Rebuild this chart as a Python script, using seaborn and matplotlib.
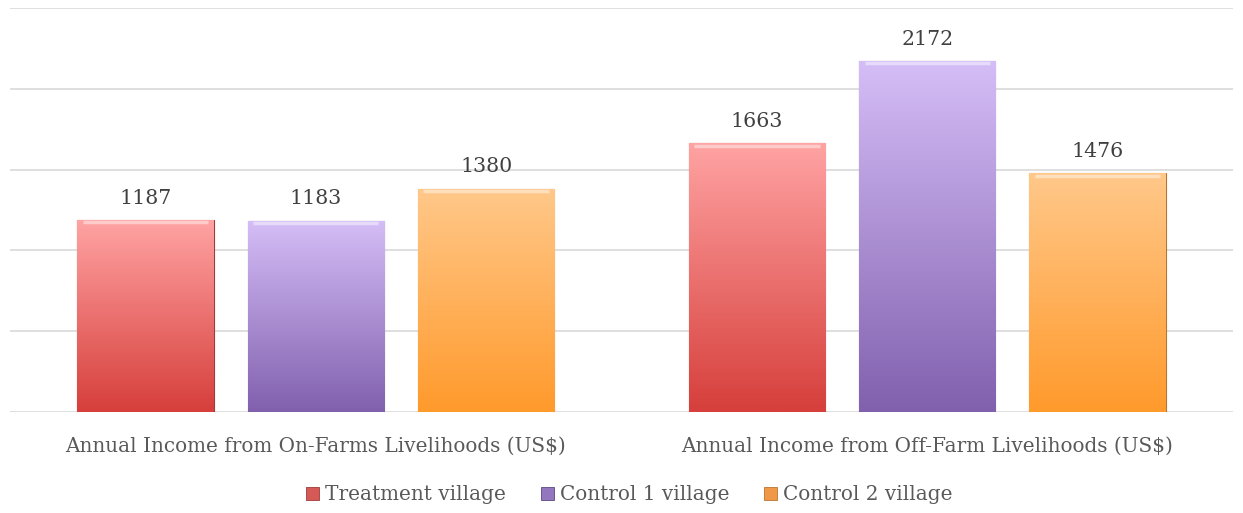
import numpy as np
import pandas as pd
import matplotlib
matplotlib.use("Agg")
import matplotlib.pyplot as plt
import seaborn as sns
from matplotlib.colors import LinearSegmentedColormap

categories = ["Annual Income from On-Farms Livelihoods (US$)",
              "Annual Income from Off-Farm Livelihoods (US$)"]
series = ["Treatment village", "Control 1 village", "Control 2 village"]
treatment = [1187, 1663]
control1 = [1183, 2172]
control2 = [1380, 1476]

top_colors = ["#FFA3A3", "#D5BEF7", "#FFC88A"]
bottom_colors = ["#D63F3B", "#8160AE", "#FF9A2C"]
mid_colors = ["#D55A57", "#9377BE", "#EE9848"]
edge_colors = ["#9E3A38", "#5E4783", "#B8742F"]

rows = []
for s, vals in zip(series, [treatment, control1, control2]):
    for c, v in zip(categories, vals):
        rows.append({"category": c, "series": s, "value": v})
df = pd.DataFrame(rows)

sns.set_theme(style="white")
plt.rcParams["font.family"] = ["DejaVu Serif"]

fig = plt.figure(figsize=(12.43, 5.13), dpi=100)
ax = fig.add_axes([10/1243, 1 - 412/513, 1223/1243, 404/513])

sns.barplot(data=df, x="category", y="value", hue="series", palette=mid_colors,
            width=0.836, gap=0.2, ax=ax, legend=True, saturation=1)

ax.set_ylim(0, 2500)
ax.set_yticks([0, 500, 1000, 1500, 2000, 2500])
ax.yaxis.grid(True, color="#D9D9D9", linewidth=1.2)
ax.set_axisbelow(True)
ax.set_yticklabels([])
ax.tick_params(axis="y", length=0)
ax.tick_params(axis="x", length=0, pad=18, labelsize=14.4, labelcolor="#595959")
ax.set_xlabel("")
ax.set_ylabel("")
for sp in ax.spines.values():
    sp.set_visible(False)

# gradient fills
for i, cont in enumerate(ax.containers):
    cmap = LinearSegmentedColormap.from_list(f"g{i}", [bottom_colors[i], top_colors[i]])
    for bar in cont:
        x0 = bar.get_x(); w = bar.get_width(); h = bar.get_height()
        grad = np.linspace(0, 1, 256).reshape(-1, 1)
        im = ax.imshow(grad, cmap=cmap, origin="lower", aspect="auto",
                       extent=[x0, x0 + w, 0, h], zorder=bar.get_zorder() + 0.1)
        im.set_clip_path(bar)
        bar.set_edgecolor(edge_colors[i])
        bar.set_linewidth(0.8)
        # bevel highlight at top
        ax.plot([x0 + w * 0.04, x0 + w * 0.96], [h - 14, h - 14], color="white",
                alpha=0.45, lw=2.5, zorder=bar.get_zorder() + 0.2, solid_capstyle="butt")
    ax.bar_label(cont, labels=[str(int(b.get_height())) for b in cont], padding=9,
                 fontsize=14.8, color="#404040")

ax.set_xlim(-0.5, 1.5)

leg = ax.legend(loc="center", bbox_to_anchor=(0.5065, -0.205), ncol=3, frameon=False,
                fontsize=14.4, handlelength=0.65, handleheight=0.65, handletextpad=0.3,
                columnspacing=1.75)
for t in leg.get_texts():
    t.set_color("#595959")
for h, ec in zip(leg.legend_handles, edge_colors):
    h.set_edgecolor(ec)
    h.set_linewidth(0.6)

fig.savefig("out.png", dpi=100)
